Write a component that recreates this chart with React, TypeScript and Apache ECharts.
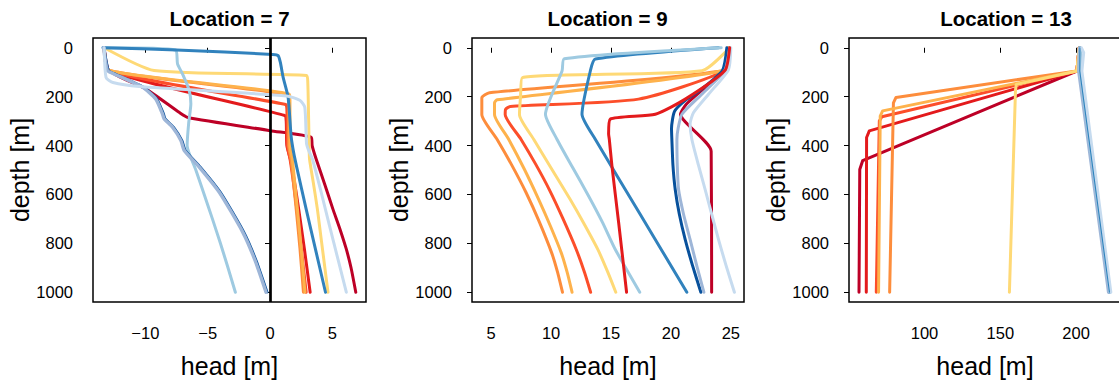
import React, { useEffect, useRef } from 'react';
import * as echarts from 'echarts';

const FONT = '"Liberation Sans", Arial, Helvetica, sans-serif';

const PANEL_TITLES = ['Location = 7', 'Location = 9', 'Location = 13'];
const X_TICKS_7 = [-10, -5, 0, 5];
const X_TICKS_9 = [5, 10, 15, 20, 25];
const X_TICKS_13 = [100, 150, 200];
const DEPTH_TICKS = [0, 200, 400, 600, 800, 1000];
const X_NAME = 'head [m]';
const Y_NAME = 'depth [m]';

// ---- Location 7 : [head, depth]
const L7_DARKRED = [[-13.3, 0], [-12.9, 94], [-9.94, 169], [-7.26, 265], [-6.59, 285], [0, 339], [3.32, 367], [3.38, 400], [3.7, 455], [4.4, 560], [5.04, 659], [5.6, 740], [6.11, 822], [6.5, 900], [6.88, 1000]];
const L7_RED = [[-13.3, 0], [-12.9, 95], [1.18, 277], [1.3, 300], [1.35, 400], [1.65, 460], [2.0, 560], [2.3, 660], [2.75, 820], [3.22, 1000]];
const L7_ORANGERED = [[-13.3, 0], [-12.9, 95], [1.26, 232], [1.35, 250], [1.4, 400], [1.62, 460], [1.9, 560], [2.15, 660], [2.5, 820], [2.9, 1000]];
const L7_ORANGE = [[-13.3, 0], [-12.9, 93], [1.45, 193], [1.5, 215], [1.5, 400], [1.7, 460], [1.9, 560], [2.1, 660], [2.4, 820], [2.68, 1000]];
const L7_LIGHTORANGE = [[-13.3, 0], [-12.9, 93], [1.55, 190], [1.6, 215], [1.6, 400], [1.8, 460], [2.0, 560], [2.2, 660], [2.5, 820], [2.8, 1000]];
const L7_YELLOW = [[-13.3, 0], [-9.3, 93], [2.93, 113], [3.03, 140], [3.1, 300], [3.14, 406], [3.17, 455], [3.5, 560], [3.8, 660], [3.97, 728], [4.3, 860], [4.65, 1000]];
const L7_DARKBLUE = [[-13.3, 0], [-12.95, 93], [-12.55, 104], [-10.14, 161], [-9.07, 209], [-8.53, 270], [-8.4, 290], [-7.72, 325], [-7.05, 379], [-6.78, 420], [-5.58, 488], [-3.97, 591], [-2.09, 754], [-1.1, 870], [-0.22, 1000]];
const L7_BLUE = [[-13.4, 0], [-7.5, 9], [0.22, 27], [0.65, 32], [0.83, 60], [1.05, 120], [1.45, 202], [1.7, 365], [1.9, 430], [2.15, 490], [2.9, 660], [3.7, 836], [4.45, 1000]];
const L7_STEEL = [[-13.35, 0], [-13.05, 93], [-12.65, 104], [-10.24, 161], [-9.17, 209], [-8.63, 270], [-8.5, 290], [-7.82, 325], [-7.15, 379], [-6.88, 420], [-5.68, 488], [-4.07, 591], [-2.19, 754], [-1.2, 870], [-0.32, 1000]];
const L7_LIGHTBLUE = [[-13.3, 0], [-7.56, 9], [-7.42, 66], [-7.02, 107], [-6.48, 175], [-6.35, 229], [-6.53, 311], [-6.65, 400], [-5.95, 500], [-5.28, 600], [-4.62, 700], [-3.98, 800], [-3.37, 900], [-2.78, 1000]];
const L7_PALE = [[-13.3, 0], [-13.15, 122], [-12.6, 142], [-10.5, 158], [1.32, 197], [2.39, 215], [2.79, 243], [2.93, 392], [3.1, 420], [3.43, 460], [4.1, 590], [4.77, 728], [5.45, 865], [6.12, 1000]];

// ---- Location 9
const L9_DARKRED = [[24.9, 0], [24.5, 93], [22.8, 165], [21.3, 230], [20.8, 272], [23.36, 423], [23.4, 1000]];
const L9_RED = [[24.9, 0], [24.5, 93], [21.2, 210], [18.7, 272], [14.94, 292], [14.8, 353], [14.86, 375], [15.08, 484], [15.64, 716], [16.3, 1000]];
const L9_ORANGERED = [[24.9, 0], [24.5, 93], [17.3, 210], [6.6, 240], [6.2, 252], [6.17, 273], [7.5, 375], [8.7, 475], [9.85, 580], [11.0, 700], [12.1, 825], [12.8, 920], [13.3, 1000]];
const L9_ORANGE = [[24.8, 0], [24.4, 93], [4.86, 184], [4.22, 205], [4.22, 273], [5.5, 375], [6.72, 480], [7.92, 593], [9.0, 710], [10.05, 839], [10.55, 920], [10.95, 1000]];
const L9_LIGHTORANGE = [[24.8, 0], [24.4, 93], [5.5, 213], [5.28, 225], [5.28, 273], [6.47, 375], [7.75, 495], [8.97, 621], [9.95, 730], [10.85, 839], [11.35, 920], [11.75, 1000]];
const L9_YELLOW = [[24.9, 0], [22.6, 94], [7.6, 122], [7.45, 200], [7.36, 273], [8.56, 375], [10.1, 500], [11.6, 621], [12.75, 720], [13.9, 825], [14.75, 920], [15.4, 1000]];
const L9_DARKBLUE = [[24.67, 0], [24.3, 93], [22.4, 175], [21.2, 215], [20.3, 260], [20.05, 330], [20.08, 375], [20.17, 480], [20.36, 580], [20.7, 680], [21.19, 784], [21.8, 890], [22.5, 1000]];
const L9_BLUE = [[23.97, 0], [13.69, 46], [13.28, 94], [12.58, 272], [13.7, 375], [17.36, 675], [21.33, 1000]];
const L9_STEEL = [[24.9, 0], [24.5, 93], [22.58, 190], [20.92, 272], [20.6, 330], [20.5, 375], [20.53, 480], [20.64, 580], [21.05, 680], [21.6, 784], [22.15, 890], [22.75, 1000]];
const L9_LIGHTBLUE = [[24.2, 0], [11.1, 45], [10.92, 94], [9.53, 272], [10.5, 375], [11.8, 490], [13.14, 607], [14.3, 715], [15.36, 825], [17.4, 1000]];
const L9_PALE = [[25.0, 0], [24.8, 90], [23.14, 190], [21.89, 265], [21.6, 312], [21.75, 375], [22.3, 480], [22.86, 580], [23.4, 680], [23.97, 784], [24.6, 890], [25.3, 1000]];

// ---- Location 13
const L13_DARKRED = [[202, 0], [200.5, 95], [59.2, 462], [57.3, 498], [56.8, 1000]];
const L13_RED = [[202, 0], [200.5, 95], [63.6, 340], [61.8, 367], [61.6, 1000]];
const L13_ORANGERED = [[202, 0], [200.5, 95], [71.9, 282], [70.2, 300], [68.2, 1000]];
const L13_ORANGE = [[202, 0], [200.5, 95], [81.2, 203], [79.5, 225], [77.0, 1000]];
const L13_LIGHTORANGE = [[202, 0], [200.5, 95], [72.4, 258], [70.8, 280], [69.7, 1000]];
const L13_YELLOW = [[202, 0], [200.5, 95], [160.5, 150], [160.0, 175], [156.0, 1000]];
const L13_DARKBLUE = [[202.5, 0], [202.4, 95], [222.0, 1000]];
const L13_BLUE = [[202.5, 0], [202.4, 95], [222.0, 1000]];
const L13_STEEL = [[202.0, 0], [201.6, 95], [221.3, 1000]];
const L13_LIGHTBLUE = [[202.8, 0], [202.6, 95], [222.4, 1000]];
const L13_PALE = [[203.5, 0], [205.0, 20], [203.8, 95], [222.9, 1000]];

const C_DARKRED = '#bd0026';
const C_RED = '#e31a1c';
const C_ORANGERED = '#fc4e2a';
const C_ORANGE = '#fd8d3c';
const C_LIGHTORANGE = '#feb24c';
const C_YELLOW = '#fed976';
const C_DARKBLUE = '#08519c';
const C_BLUE = '#3182bd';
const C_STEEL = '#9eb6d8';
const C_LIGHTBLUE = '#9ecae1';
const C_PALE = '#c6dbef';

const GRID_LEFTS = [93, 472, 849];
const GRID_WIDTHS = [273, 272, 272];
const GRID_TOP = 38;
const GRID_HEIGHT = 264;
const X_RANGES = [[-14.2, 7.7], [3.4, 26.1], [50.2, 229.6]];
const TITLE_CENTERS = [229.5, 607.5, 1006];

const fmt = (v: number) => (v < 0 ? '\u2212' + Math.abs(v) : String(v));

function line(name: string, data: number[][], color: string, idx: number, width = 3, z = 2, smooth: number | boolean = false) {
  return {
    type: 'line',
    name,
    xAxisIndex: idx,
    yAxisIndex: idx,
    data,
    symbol: 'none',
    showSymbol: false,
    silent: true,
    smooth,
    z,
    lineStyle: { color, width, cap: 'round', join: 'round' },
  };
}

export default function App() {
  const ref = useRef<HTMLDivElement>(null);
  useEffect(() => {
    if (!ref.current) return;
    const chart = echarts.init(ref.current, undefined, { renderer: 'svg' });
    const xTicks = [X_TICKS_7, X_TICKS_9, X_TICKS_13];
    const grids = [0, 1, 2].map((i) => ({
      left: GRID_LEFTS[i],
      top: GRID_TOP,
      width: GRID_WIDTHS[i],
      height: GRID_HEIGHT,
      show: true,
      borderColor: '#000',
      borderWidth: 1.5,
      backgroundColor: 'transparent',
      containLabel: false,
    }));
    const xAxes = [0, 1, 2].map((i) => ({
      gridIndex: i,
      type: 'value',
      min: X_RANGES[i][0],
      max: X_RANGES[i][1],
      axisLine: { show: false },
      splitLine: { show: false },
      axisTick: { show: true, length: 5, lineStyle: { color: '#000', width: 1 }, customValues: xTicks[i] },
      axisLabel: { customValues: xTicks[i], formatter: (v: number) => fmt(v), fontSize: 16.5, color: '#000', margin: 22, fontFamily: FONT },
      name: X_NAME,
      nameLocation: 'middle',
      nameGap: 51,
      nameTextStyle: { fontSize: 25, color: '#000', fontFamily: FONT },
    }));
    const yAxes = [0, 1, 2].map((i) => ({
      gridIndex: i,
      type: 'value',
      inverse: true,
      min: -40,
      max: 1040,
      axisLine: { show: false },
      splitLine: { show: false },
      axisTick: { show: true, length: 5, lineStyle: { color: '#000', width: 1 }, customValues: DEPTH_TICKS },
      axisLabel: { customValues: DEPTH_TICKS, formatter: (v: number) => String(v), fontSize: 16.5, color: '#000', margin: 20, fontFamily: FONT },
      name: Y_NAME,
      nameLocation: 'middle',
      nameGap: 60,
      nameTextStyle: { fontSize: 25, color: '#000', fontFamily: FONT },
    }));
    const S = 0.2;
    const series: any[] = [
      line('L7 darkred', L7_DARKRED, C_DARKRED, 0, 3, 2, S),
      line('L7 red', L7_RED, C_RED, 0, 3, 2, S),
      line('L7 orangered', L7_ORANGERED, C_ORANGERED, 0, 3, 2, S),
      line('L7 orange', L7_ORANGE, C_ORANGE, 0, 3, 2, S),
      line('L7 lightorange', L7_LIGHTORANGE, C_LIGHTORANGE, 0, 3, 2, S),
      line('L7 yellow', L7_YELLOW, C_YELLOW, 0, 3, 2, S),
      line('L7 lightblue', L7_LIGHTBLUE, C_LIGHTBLUE, 0, 3, 2, S),
      line('L7 blue', L7_BLUE, C_BLUE, 0, 3, 2, S),
      line('L7 darkblue', L7_DARKBLUE, C_DARKBLUE, 0, 2.4, 2, S),
      line('L7 steel', L7_STEEL, C_STEEL, 0, 3.4, 2, S),
      line('L7 pale', L7_PALE, C_PALE, 0, 3, 2, S),
      {
        type: 'line', xAxisIndex: 0, yAxisIndex: 0, data: [], silent: true, z: 10,
        markLine: { silent: true, symbol: 'none', label: { show: false }, lineStyle: { color: '#000', width: 2.7, type: 'solid' }, data: [{ xAxis: 0 }] },
      },
      line('L9 darkred', L9_DARKRED, C_DARKRED, 1, 3, 2, S),
      line('L9 orangered', L9_ORANGERED, C_ORANGERED, 1, 3, 2, S),
      line('L9 orange', L9_ORANGE, C_ORANGE, 1, 3, 2, S),
      line('L9 lightorange', L9_LIGHTORANGE, C_LIGHTORANGE, 1, 3, 2, S),
      line('L9 yellow', L9_YELLOW, C_YELLOW, 1, 3, 2, S),
      line('L9 darkblue', L9_DARKBLUE, C_DARKBLUE, 1, 3, 2, S),
      line('L9 blue', L9_BLUE, C_BLUE, 1, 3, 2, S),
      line('L9 steel', L9_STEEL, C_STEEL, 1, 3, 2, S),
      line('L9 lightblue', L9_LIGHTBLUE, C_LIGHTBLUE, 1, 3, 2, S),
      line('L9 pale', L9_PALE, C_PALE, 1, 3, 2, S),
      line('L9 red', L9_RED, C_RED, 1, 3, 2, S),
      line('L13 darkred', L13_DARKRED, C_DARKRED, 2),
      line('L13 red', L13_RED, C_RED, 2),
      line('L13 orangered', L13_ORANGERED, C_ORANGERED, 2),
      line('L13 orange', L13_ORANGE, C_ORANGE, 2),
      line('L13 lightorange', L13_LIGHTORANGE, C_LIGHTORANGE, 2),
      line('L13 yellow', L13_YELLOW, C_YELLOW, 2),
      line('L13 darkblue', L13_DARKBLUE, C_DARKBLUE, 2),
      line('L13 steel', L13_STEEL, C_STEEL, 2),
      line('L13 lightblue', L13_LIGHTBLUE, C_LIGHTBLUE, 2),
      line('L13 pale', L13_PALE, C_PALE, 2),
      line('L13 blue', L13_BLUE, C_BLUE, 2, 1.1, 3),
    ];
    const titles = [0, 1, 2].map((i) => ({
      type: 'text',
      x: TITLE_CENTERS[i],
      y: 7.6,
      style: {
        text: PANEL_TITLES[i],
        fontSize: 20.5,
        fontWeight: 'bold',
        fontFamily: FONT,
        fill: '#000',
        align: 'center',
        verticalAlign: 'top',
        textAlign: 'center',
        textVerticalAlign: 'top',
      },
    }));
    chart.setOption({
      animation: false,
      backgroundColor: '#fff',
      grid: grids,
      xAxis: xAxes,
      yAxis: yAxes,
      series,
      graphic: titles,
    });
    return () => chart.dispose();
  }, []);
  return (
    <div style={{ position: 'fixed', left: 0, top: 0, width: 1119, height: 385, overflow: 'hidden', background: '#fff' }}>
      <div ref={ref} style={{ width: 1130, height: 385 }} />
    </div>
  );
}
